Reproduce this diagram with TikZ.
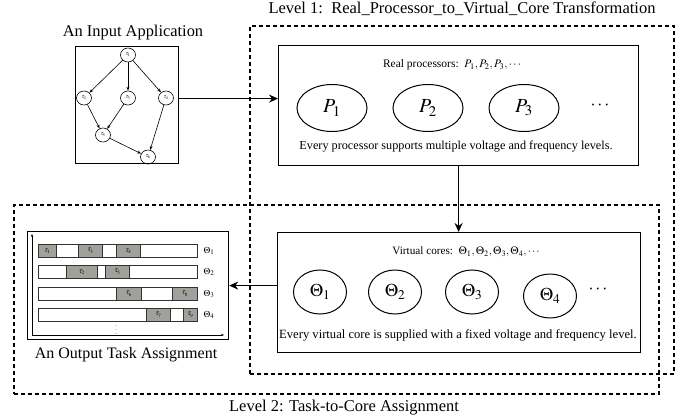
\documentclass[tikz,border=0pt]{standalone}
\usepackage{mathptmx}
\usepackage[no-math]{fontspec}
\setmainfont{Liberation Serif}
\usetikzlibrary{shapes.geometric,arrows.meta}
\definecolor{taskgray}{RGB}{158,162,154}
\begin{document}
\begin{tikzpicture}[x=1pt,y=-1pt,
 lvl/.style={draw, line width=1.6pt, dash pattern=on 4pt off 3pt, inner sep=0, anchor=north west},
 box/.style={draw, line width=1.2pt, inner sep=0, anchor=north west},
 tnode/.style={draw, ellipse, line width=0.6pt, minimum width=15pt, minimum height=14pt, inner sep=0, font=\fontsize{5.5}{6}\selectfont},
 garrow/.style={-{Stealth[length=4pt,width=3pt]}, line width=0.6pt},
 bigarrow/.style={-{Stealth[length=9pt,width=8pt]}, line width=1.7pt},
 axisarrow/.style={-{Stealth[length=3pt,width=2.4pt]}, line width=0.6pt},
 proc/.style={draw, ellipse, line width=1pt, minimum width=70pt, minimum height=47pt, inner sep=0, font=\fontsize{20}{22}\selectfont},
 vcore/.style={draw, ellipse, line width=1pt, minimum width=53pt, minimum height=44pt, inner sep=0, font=\fontsize{18}{20}\selectfont},
 bar/.style={draw=black!80, line width=0.6pt, inner sep=0, anchor=north west, minimum height=13pt},
 task/.style={bar, fill=taskgray, font=\fontsize{7}{8}\selectfont},
 rowlab/.style={font=\fontsize{9}{10}\selectfont},
 biglabel/.style={font=\fontsize{16.5}{18}\selectfont},
 intext/.style={font=\fontsize{11.5}{13}\selectfont}
]
\useasboundingbox (0,0) rectangle (688,420);

% level boxes
\node[lvl, minimum width=424pt, minimum height=348pt] (L1) at (249,25) {};
\node[lvl, minimum width=645pt, minimum height=189pt] (L2) at (13,204) {};
\node[biglabel] (L1lab) at (462,9) {Level 1:\ \ Real\_Processor\_to\_Virtual\_Core Transformation};
\node[biglabel] (L2lab) at (344,408) {Level 2: Task-to-Core Assignment};

% input application
\node[font=\fontsize{16.4}{18}\selectfont] (inlab) at (133,33) {An Input Application};
\node[box, minimum width=103pt, minimum height=117pt] (inbox) at (75,46) {};
\node[tnode] (g1) at (128,55) {$\tau_1$};
\node[tnode] (g2) at (84,98) {$\tau_2$};
\node[tnode] (g3) at (128,98) {$\tau_3$};
\node[tnode] (g4) at (166,98) {$\tau_4$};
\node[tnode] (g5) at (103,135) {$\tau_5$};
\node[tnode] (g6) at (148,157) {$\tau_6$};
\draw[garrow] (g1) -- (g2);
\draw[garrow] (g1) -- (g3);
\draw[garrow] (g1) -- (g4);
\draw[garrow] (g2) -- (g5);
\draw[garrow] (g3) -- (g5);
\draw[garrow] (g5) -- (g6);
\draw[garrow] (g4) -- (g6);

% real processors
\node[box, minimum width=360pt, minimum height=120pt] (pbox) at (278,45) {};
\node[intext] (ptitle) at (452,65) {Real processors:\ \ $P_1,P_2,P_3,\cdots$};
\node[proc] (p1) at (332,108) {$P_1$};
\node[proc] (p2) at (428,108) {$P_2$};
\node[proc] (p3) at (524,108) {$P_3$};
\node[font=\fontsize{18}{20}\selectfont] (pdots) at (600,106) {$\cdots$};
\node[font=\fontsize{12.2}{13}\selectfont] (ptext) at (456,147) {Every processor supports multiple voltage and frequency levels.};

% virtual cores
\node[box, minimum width=363pt, minimum height=120pt] (vbox) at (277,232) {};
\node[font=\fontsize{11.2}{12}\selectfont] (vtitle) at (466,252) {Virtual cores:\ \ $\Theta_1,\Theta_2,\Theta_3,\Theta_4,\cdots$};
\node[vcore] (v1) at (320,292) {$\Theta_1$};
\node[vcore] (v2) at (395,292) {$\Theta_2$};
\node[vcore] (v3) at (472,292) {$\Theta_3$};
\node[vcore] (v4) at (550,296) {$\Theta_4$};
\node[font=\fontsize{18}{20}\selectfont] (vdots) at (598,290) {$\cdots$};
\node[font=\fontsize{12.6}{14}\selectfont] (vtext) at (458,335) {Every virtual core is supplied with a fixed voltage and frequency level.};

% output task assignment
\node[box, minimum width=201pt, minimum height=108pt] (obox) at (27,231) {};
\node[font=\fontsize{16}{18}\selectfont] (olab) at (126,355) {An Output Task Assignment};
\coordinate (o) at (32,335);
\coordinate (ytop) at (32,234);
\coordinate (xend) at (224,335);
\draw[axisarrow] (o) -- (ytop);
\draw[axisarrow] (o) -- (xend);

\node[bar, minimum width=159pt] (r1) at (38,244) {};
\node[bar, minimum width=159pt] (r2) at (38,265) {};
\node[bar, minimum width=159pt] (r3) at (38,287) {};
\node[bar, minimum width=159pt] (r4) at (38,308) {};

\node[task, minimum width=18pt] (t1) at (38,244) {$\tau_1$};
\node[task, minimum width=24pt] (t3) at (78,244) {$\tau_3$};
\node[task, minimum width=24pt] (t4) at (116,244) {$\tau_4$};
\node[task, minimum width=31pt] (t2) at (66,265) {$\tau_2$};
\node[task, minimum width=24pt] (t5) at (105,265) {$\tau_5$};
\node[task, minimum width=25pt] (t6) at (116,287) {$\tau_6$};
\node[task, minimum width=25pt] (t8) at (172,287) {$\tau_8$};
\node[task, minimum width=24pt] (t7) at (146,308) {$\tau_7$};
\node[task, minimum width=14pt] (t9) at (183,308) {$\tau_9$};

\node[rowlab] (th1) at (209,251) {$\Theta_1$};
\node[rowlab] (th2) at (209,272) {$\Theta_2$};
\node[rowlab] (th3) at (209,294) {$\Theta_3$};
\node[rowlab] (th4) at (209,315) {$\Theta_4$};
\node[font=\fontsize{6}{6}\selectfont] (vd) at (116,327) {$\vdots$};

% connectors
\draw[bigarrow] ([yshift=6.5pt]inbox.east) -- ([yshift=7pt]pbox.west);
\draw[bigarrow] (pbox.south) -- (pbox.south |- vbox.north);
\draw[bigarrow] (vbox.west |- obox.east) -- (obox.east);
\end{tikzpicture}
\end{document}
